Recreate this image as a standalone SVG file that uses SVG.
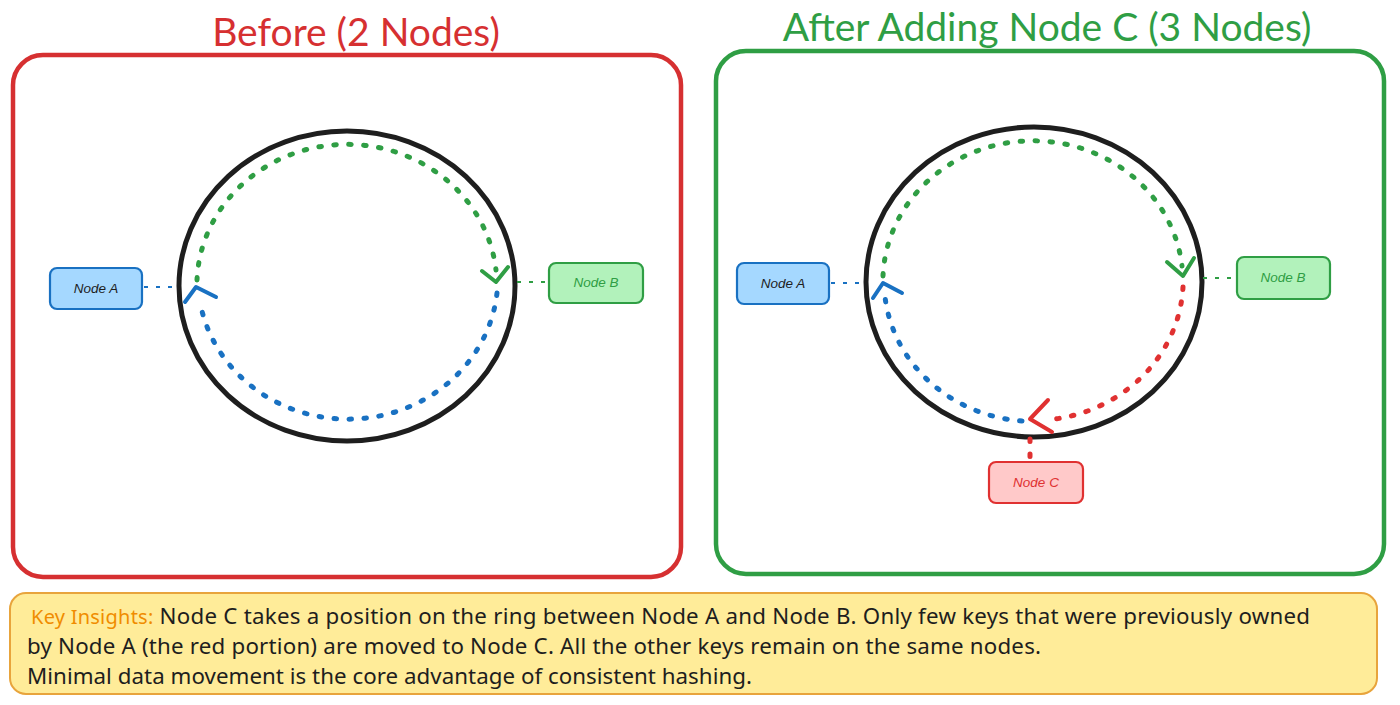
<svg xmlns="http://www.w3.org/2000/svg" width="1400" height="705" viewBox="0 0 1400 705">
<defs>
<style>
.title{font-family:"Lato","Open Sans",sans-serif;font-size:39px;text-anchor:middle}
.panel{fill:#ffffff;stroke-width:4.5}
.ring{fill:none;stroke:#1e1e1e;stroke-width:5}
.dots{fill:none;stroke-width:5;stroke-linecap:round;stroke-dasharray:2.5 12.5}
.arrow{fill:none;stroke-width:4;stroke-linecap:round;stroke-linejoin:round}
.conn{fill:none;stroke-width:1.8;stroke-dasharray:4 8}
.node rect{stroke-width:2.2}
.node text{font-family:"Liberation Sans",sans-serif;font-style:italic;font-size:13.5px;text-anchor:middle}
.ins{font-family:"Noto Sans","Open Sans",sans-serif;font-size:22.3px;fill:#1e1e1e}
</style>
</defs>
<rect width="1400" height="705" fill="#ffffff"/>

<!-- Titles -->
<text class="title" x="356" y="46" fill="#d63031">Before (2 Nodes)</text>
<text class="title" x="1047" y="41" fill="#2f9e44">After Adding Node C (3 Nodes)</text>

<!-- Panels -->
<rect id="panel-before" class="panel" x="13" y="55" width="668" height="522" rx="30" stroke="#d63031"/>
<rect id="panel-after" class="panel" x="716" y="51" width="668" height="523" rx="30" stroke="#2f9e44"/>

<!-- Rings -->
<g id="ring-before">
<ellipse class="ring" cx="347" cy="286" rx="168" ry="155"/>
</g>
<g id="ring-after">
<ellipse class="ring" cx="1034" cy="282" rx="168" ry="155"/>
</g>

<!-- Connectors -->
<g id="connectors">
<!-- before -->
<path class="dots" stroke="#2f9e44" d="M197,280 A150,141 0 0 1 496,270"/>
<polyline class="arrow" stroke="#2f9e44" points="482,271 496,282 508,267"/>
<path class="dots" stroke="#1971c2" d="M497,293 A150,141 0 0 1 200,302"/>
<polyline class="arrow" stroke="#1971c2" points="185,302 196,287 216,297"/>
<line class="conn" stroke="#1971c2" x1="144" y1="287" x2="180" y2="287"/>
<line class="conn" stroke="#2f9e44" x1="517" y1="282" x2="549" y2="282"/>
<!-- after -->
<path class="dots" stroke="#2f9e44" d="M883,276 A150,140.5 0 0 1 1182,266"/>
<polyline class="arrow" stroke="#2f9e44" points="1167,262 1183,276 1194,258"/>
<path class="dots" stroke="#e03131" d="M1183,287 A150,140.5 0 0 1 1046,420"/>
<polyline class="arrow" stroke="#e03131" points="1048,400 1030,419 1052,432"/>
<path class="dots" stroke="#1971c2" d="M1022,421 A150,140.5 0 0 1 885,297"/>
<polyline class="arrow" stroke="#1971c2" points="873,298 883,283 902,293"/>
<line class="conn" stroke="#1971c2" x1="831" y1="283" x2="866" y2="283"/>
<line class="conn" stroke="#2f9e44" x1="1203" y1="278" x2="1237" y2="278"/>
<line class="dots" stroke="#e03131" stroke-width="4" x1="1030" y1="439" x2="1030" y2="460" stroke-dasharray="2.5 15"/>
</g>

<!-- Nodes -->
<g id="node-a-before" class="node">
<rect x="50" y="268" width="92" height="41" rx="7" fill="#a5d8ff" stroke="#1971c2"/>
<text x="96" y="293" fill="#1e1e1e">Node A</text>
</g>
<g id="node-b-before" class="node">
<rect x="549" y="263" width="94" height="40" rx="7" fill="#b2f2bb" stroke="#2f9e44"/>
<text x="596" y="287" fill="#2f9e44">Node B</text>
</g>
<g id="node-a-after" class="node">
<rect x="737" y="263" width="92" height="41" rx="7" fill="#a5d8ff" stroke="#1971c2"/>
<text x="783" y="288" fill="#1e1e1e">Node A</text>
</g>
<g id="node-b-after" class="node">
<rect x="1237" y="257" width="93" height="42" rx="7" fill="#b2f2bb" stroke="#2f9e44"/>
<text x="1283" y="282" fill="#2f9e44">Node B</text>
</g>
<g id="node-c-after" class="node">
<rect x="989" y="462" width="94" height="41" rx="7" fill="#ffc9c9" stroke="#e03131"/>
<text x="1036" y="487" fill="#e03131">Node C</text>
</g>

<!-- Key insights -->
<g id="insights">
<rect x="10" y="593" width="1367" height="101" rx="16" fill="#ffec99" stroke="#e8a43c" stroke-width="2"/>
<text class="ins" x="31" y="624" textLength="1279" lengthAdjust="spacing"><tspan fill="#f08c00" font-size="20">Key Insights:</tspan> Node C takes a position on the ring between Node A and Node B. Only few keys that were previously owned</text>
<text class="ins" x="27" y="654" textLength="1014" lengthAdjust="spacing">by Node A (the red portion) are moved to Node C. All the other keys remain on the same nodes.</text>
<text class="ins" x="27" y="684" textLength="725" lengthAdjust="spacing">Minimal data movement is the core advantage of consistent hashing.</text>
</g>
</svg>
